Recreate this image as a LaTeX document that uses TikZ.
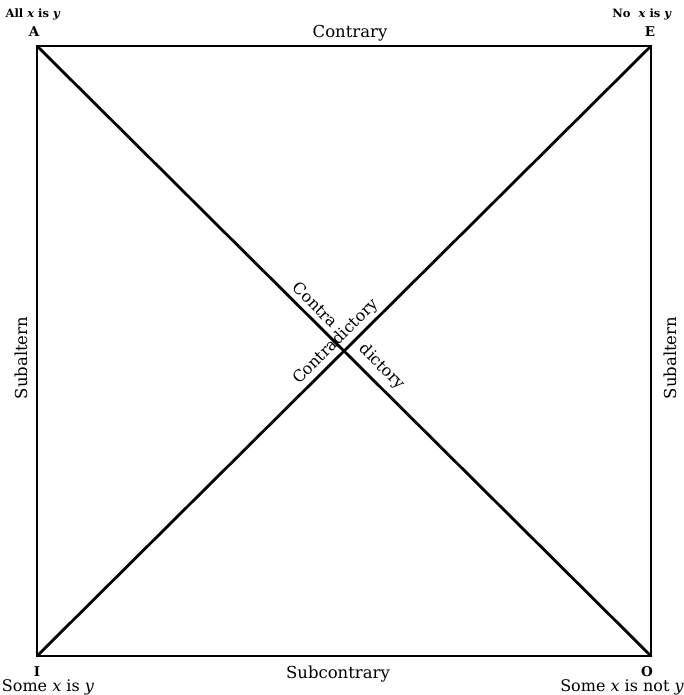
\documentclass[tikz,border=0pt]{standalone}
\usepackage{fontspec}
\setmainfont{DejaVu Serif}
\begin{document}
\begin{tikzpicture}[x=1pt,y=-1pt,
  edge/.style={line width=2.8pt, line cap=round, line join=miter},
  vlet/.style={font=\fontsize{13.5}{15}\selectfont\bfseries, inner sep=0pt},
  toplab/.style={font=\fontsize{11.5}{13}\selectfont\bfseries, inner sep=0pt},
  botlab/.style={font=\fontsize{16}{18}\selectfont, inner sep=0pt},
  rel/.style={font=\fontsize{16.5}{18}\selectfont, inner sep=0pt},
  mid/.style={font=\fontsize{16}{18}\selectfont, inner sep=0pt}]
\useasboundingbox (0,0) rectangle (684,695);
% corners
\coordinate (cA) at (37,46);
\coordinate (cE) at (651,46);
\coordinate (cI) at (37,656);
\coordinate (cO) at (651,656);
% square and diagonals
\draw[edge] (cA) -- (cE) -- (cO) -- (cI) -- cycle;
\draw[edge] (cA) -- (cO);
\draw[edge] (cI) -- (cE);
% vertex letters
\node[vlet] (A) at (34,32) {A};
\node[vlet] (E) at (650,32) {E};
\node[vlet] (I) at (37,672) {I};
\node[vlet] (O) at (647,672) {O};
% propositions
\node[toplab] (pA) at (33,14) {All \textit{x} is \textit{y}};
\node[toplab] (pE) at (642,14) {No\hspace{0.7em}\textit{x} is \textit{y}};
\node[botlab] (pI) at (48,687) {Some \textit{x} is \textit{y}};
\node[botlab] (pO) at (622,687) {Some \textit{x} is not \textit{y}};
% relations
\node[rel] (contrary) at (350,33) {Contrary};
\node[rel] (subcontrary) at (338,674) {Subcontrary};
\node[rel, rotate=90] (subL) at (21,358) {Subaltern};
\node[rel, rotate=90] (subR) at (670,358) {Subaltern};
% center
\node[mid, rotate=-45] (contra) at (315.5,304.5) {Contra};
\node[mid, rotate=-45] (dictory) at (382,367) {dictory};
\node[mid, rotate=45] (contradictory) at (336,342) {Contradictory};
\end{tikzpicture}
\end{document}
